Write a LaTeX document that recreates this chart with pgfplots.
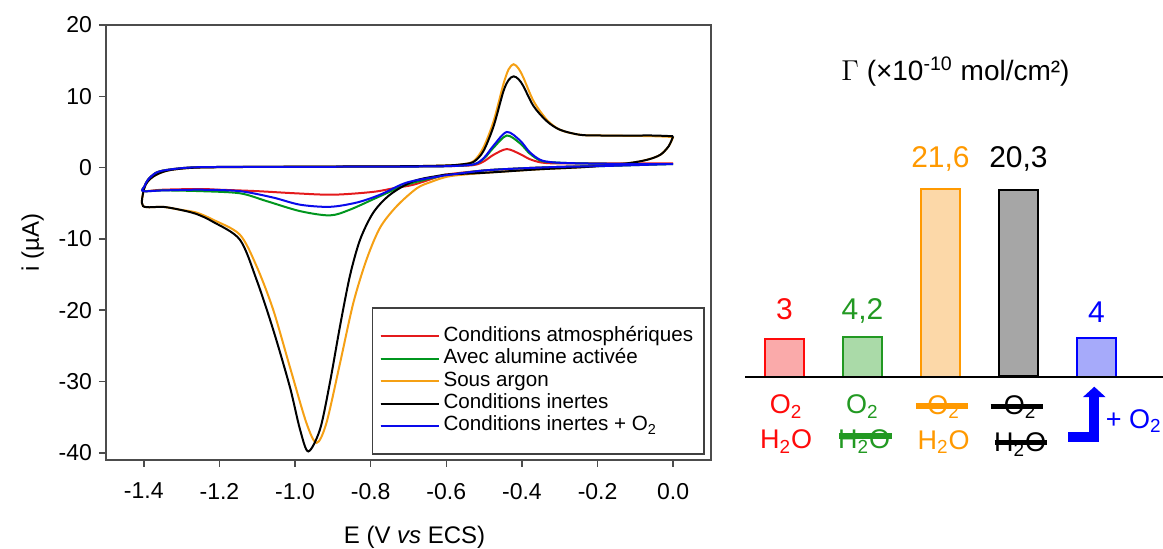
\documentclass[border=0pt]{standalone}
\usepackage{pgfplots}
\pgfplotsset{compat=1.18}
\usepackage{fontspec}
\setmainfont{Liberation Sans}
\usetikzlibrary{arrows.meta}
\definecolor{cred}{RGB}{228,26,28}
\definecolor{cgreen}{RGB}{0,150,30}
\definecolor{corange}{RGB}{245,160,20}
\definecolor{cblue}{RGB}{10,10,235}
\definecolor{tred}{RGB}{255,10,10}
\definecolor{tgreen}{RGB}{34,153,34}
\definecolor{torange}{RGB}{255,153,0}
\definecolor{tblue}{RGB}{0,0,255}
\definecolor{fred}{RGB}{250,170,170}
\definecolor{fgreen}{RGB}{170,218,168}
\definecolor{forange}{RGB}{252,216,168}
\definecolor{fgray}{RGB}{166,166,166}
\definecolor{fblue}{RGB}{166,170,250}
\begin{document}
\begin{tikzpicture}
\path[use as bounding box] (0pt,0pt) rectangle (581.5pt,274.5pt);
\begin{axis}[
  at={(53pt,44.5pt)}, anchor=south west, scale only axis,
  width=302.5pt, height=217.5pt,
  xmin=-1.5, xmax=0.1, ymin=-41, ymax=20,
  xtick={-1.4,-1.2,-1,-0.8,-0.6,-0.4,-0.2,0},
  ytick={-40,-30,-20,-10,0,10,20},
  tick pos=left, tick align=outside, major tick length=3.5pt,
  axis line style={draw=black!70, line width=0.8pt},
  every tick/.style={black!70, line width=0.8pt},
  /pgf/number format/assume math mode=true,
  tick label style={font=\fontsize{11.5}{13}\selectfont},
  xticklabel style={yshift=-4.5pt, /pgf/number format/.cd, fixed, fixed zerofill, precision=1},
  yticklabel style={/pgf/number format/.cd, fixed, precision=0},
  xlabel={E (V \textit{vs} ECS)},
  ylabel={i (µA)},
  label style={font=\fontsize{12}{14}\selectfont},
  xlabel style={at={(axis description cs:0.51,-0.177)}, anchor=center},
  ylabel style={at={(axis description cs:-0.121,0.5)}, anchor=center},
  legend cell align=left,
  legend style={at={(0.990,0.0115)}, anchor=south east, draw=black!75, line width=0.8pt,
    fill=white, font=\fontsize{10.3}{11}\selectfont, inner xsep=3.5pt, inner ysep=8.5pt, row sep=0pt,
    nodes={inner ysep=0.7pt, text height=7.4pt, text depth=2.4pt}},
  legend image code/.code={\draw[#1, line width=1pt] (0pt,0pt) -- (23pt,0pt); \path (0pt,0pt) -- (29pt,0pt);},
]
\addplot[cred, line width=1pt, smooth, tension=0.5] coordinates {
(0.0,0.6)(-0.1,0.4)(-0.2,0.25)(-0.3,0.1)(-0.4,-0.1)(-0.5,-0.4)(-0.59,-0.9)(-0.616,-1.2)(-0.687,-2.4)(-0.731,-2.8)(-0.793,-3.4)(-0.899,-3.8)(-1.0,-3.6)(-1.1,-3.3)(-1.2,-3.1)(-1.252,-3.0)(-1.35,-3.1)(-1.402,-3.3)
(-1.398,-2.6)(-1.389,-1.7)(-1.367,-0.7)(-1.332,-0.27)(-1.261,0.05)(-1.1,0.1)(-0.9,0.12)(-0.7,0.15)(-0.6,0.2)(-0.528,0.35)(-0.50,0.9)(-0.475,1.8)(-0.44,2.6)(-0.405,1.9)(-0.38,1.2)(-0.352,0.75)(-0.32,0.6)(-0.25,0.6)(-0.1,0.6)(0.0,0.6)};
\addlegendentry{Conditions atmosphériques}
\addplot[cgreen, line width=1pt, smooth, tension=0.5] coordinates {
(0.0,0.5)(-0.1,0.35)(-0.2,0.2)(-0.3,0.1)(-0.4,-0.1)(-0.5,-0.4)(-0.59,-1.0)(-0.616,-1.2)(-0.705,-2.4)(-0.775,-4.0)(-0.855,-5.9)(-0.908,-6.7)(-0.987,-6.1)(-1.075,-4.7)(-1.146,-3.6)(-1.25,-3.3)(-1.35,-3.2)(-1.402,-3.3)
(-1.398,-2.6)(-1.389,-1.7)(-1.367,-0.7)(-1.332,-0.27)(-1.261,0.05)(-1.1,0.1)(-0.9,0.12)(-0.7,0.15)(-0.6,0.2)(-0.528,0.45)(-0.50,1.3)(-0.475,2.8)(-0.44,4.5)(-0.405,3.4)(-0.38,2.0)(-0.352,1.0)(-0.32,0.75)(-0.25,0.6)(-0.1,0.5)(0.0,0.5)};
\addlegendentry{Avec alumine activée}
\addplot[corange, line width=1pt, smooth, tension=0.5] coordinates {
(0.000,4.3)(-0.012,3.0)(-0.034,1.8)(-0.069,1.1)(-0.122,0.6)(-0.228,0.1)(-0.36,-0.25)(-0.49,-0.7)(-0.59,-1.2)(-0.64,-2.0)(-0.678,-2.9)(-0.731,-5.4)(-0.775,-8.4)(-0.811,-12.9)(-0.846,-19.0)(-0.881,-27.4)(-0.917,-35.8)(-0.943,-38.6)(-0.970,-35.8)(-1.014,-27.9)(-1.058,-19.9)(-1.102,-13.8)(-1.146,-9.4)(-1.217,-7.3)(-1.261,-6.3)(-1.305,-5.9)(-1.349,-5.5)(-1.402,-5.4)
(-1.400,-3.1)(-1.389,-1.9)(-1.367,-1.0)(-1.332,-0.36)(-1.261,0.0)(-1.1,0.1)(-0.9,0.15)(-0.7,0.2)(-0.6,0.3)(-0.56,0.45)(-0.528,0.9)(-0.502,2.8)(-0.475,6.5)(-0.449,11.7)(-0.435,13.8)(-0.422,14.5)(-0.409,13.9)(-0.396,12.6)(-0.369,9.3)(-0.334,6.7)(-0.299,5.3)(-0.246,4.6)(-0.185,4.5)(-0.1,4.45)(-0.05,4.4)(0.0,4.3)};
\addlegendentry{Sous argon}
\addplot[black, line width=1pt, smooth, tension=0.5] coordinates {
(0.000,4.4)(-0.012,3.0)(-0.034,1.8)(-0.069,1.1)(-0.122,0.6)(-0.228,0.1)(-0.36,-0.25)(-0.49,-0.7)(-0.59,-0.95)(-0.616,-1.1)(-0.687,-1.9)(-0.749,-3.8)(-0.793,-6.3)(-0.828,-10.1)(-0.855,-15.2)(-0.881,-22.2)(-0.908,-30.2)(-0.934,-36.7)(-0.965,-39.8)(-0.987,-36.7)(-1.014,-30.7)(-1.058,-22.7)(-1.102,-15.7)(-1.146,-10.1)(-1.217,-7.6)(-1.261,-6.5)(-1.305,-5.9)(-1.349,-5.5)(-1.402,-5.4)
(-1.400,-3.1)(-1.389,-1.9)(-1.367,-1.0)(-1.332,-0.36)(-1.261,0.0)(-1.1,0.1)(-0.9,0.15)(-0.7,0.2)(-0.6,0.3)(-0.56,0.45)(-0.528,0.8)(-0.502,2.3)(-0.475,5.8)(-0.449,10.7)(-0.435,12.3)(-0.422,12.8)(-0.409,12.4)(-0.396,11.4)(-0.369,8.6)(-0.334,6.5)(-0.299,5.3)(-0.246,4.6)(-0.185,4.5)(-0.1,4.5)(-0.05,4.5)(0.0,4.4)};
\addlegendentry{Conditions inertes}
\addplot[cblue, line width=1pt, smooth, tension=0.5] coordinates {
(0.0,0.5)(-0.1,0.35)(-0.2,0.2)(-0.3,0.1)(-0.4,-0.1)(-0.5,-0.4)(-0.59,-1.0)(-0.616,-1.2)(-0.705,-2.1)(-0.775,-3.8)(-0.837,-4.9)(-0.908,-5.5)(-0.987,-5.2)(-1.058,-4.2)(-1.146,-3.3)(-1.25,-3.1)(-1.35,-3.2)(-1.402,-3.3)
(-1.398,-2.6)(-1.389,-1.7)(-1.367,-0.7)(-1.332,-0.27)(-1.261,0.05)(-1.1,0.1)(-0.9,0.12)(-0.7,0.15)(-0.6,0.2)(-0.528,0.45)(-0.50,1.4)(-0.475,3.1)(-0.44,5.0)(-0.405,3.8)(-0.38,2.2)(-0.352,1.1)(-0.32,0.75)(-0.25,0.6)(-0.1,0.5)(0.0,0.5)};
\addlegendentry{Conditions inertes + O\textsubscript{2}}
\end{axis}
\begin{axis}[
  at={(372.5pt,44.5pt)}, anchor=south west, scale only axis,
  width=209pt, height=217.5pt,
  xmin=-0.506, xmax=4.853, ymin=-83.3, ymax=351.7,
  hide axis, clip=false,
]
\addplot[ybar, bar width=0.5, bar shift=0pt, draw=tred, fill=fred, line width=1pt] coordinates {(0,37.4)};
\addplot[ybar, bar width=0.5, bar shift=0pt, draw=tgreen, fill=fgreen, line width=1pt] coordinates {(1,40.0)};
\addplot[ybar, bar width=0.5, bar shift=0pt, draw=torange, fill=forange, line width=1pt] coordinates {(2,187.7)};
\addplot[ybar, bar width=0.5, bar shift=0pt, draw=black, fill=fgray, line width=1.3pt] coordinates {(3,186.7)};
\addplot[ybar, bar width=0.5, bar shift=0pt, draw=tblue, fill=fblue, line width=1pt] coordinates {(4,38.7)};
\draw[line width=1pt] (axis cs:-0.506,0) -- (axis cs:4.853,0);
% title
\node[anchor=base, font=\fontsize{14}{16}\selectfont] at (axis cs:2.192,296) {$\Gamma$ (×10\textsuperscript{-10} mol/cm²)};
% values
\begin{scope}[every node/.style={anchor=base, font=\fontsize{15}{17}\selectfont}]
\node[tred] at (axis cs:0,57.4) {3};
\node[tgreen] at (axis cs:1,57.4) {4,2};
\node[torange] at (axis cs:2,209) {21,6};
\node[black] at (axis cs:3,209) {20,3};
\node[tblue] at (axis cs:4,54) {4};
\end{scope}
% formulas
\begin{scope}[every node/.style={anchor=base, font=\fontsize{13.5}{15}\selectfont}]
\node[tred] at (axis cs:0.02,-37) {O\textsubscript{2}};
\node[tred] at (axis cs:0.02,-72) {H\textsubscript{2}O};
\node[tgreen] at (axis cs:1.0,-37) {O\textsubscript{2}};
\node[tgreen] at (axis cs:1.02,-72) {H\textsubscript{2}O};
\node[torange] at (axis cs:2.04,-37.5) {O\textsubscript{2}};
\node[torange] at (axis cs:2.04,-72.5) {H\textsubscript{2}O};
\node[black] at (axis cs:3.02,-37.5) {O\textsubscript{2}};
\node[black] at (axis cs:3.02,-75) {H\textsubscript{2}O};
\node[tblue] at (axis cs:4.478,-51.6) {+ O\textsubscript{2}};
\end{scope}
% strikes
\draw[tgreen, line width=3.2pt] (axis cs:0.699,-59.3) -- (axis cs:1.374,-59.3);
\draw[torange, line width=2.8pt] (axis cs:1.686,-29.5) -- (axis cs:2.353,-29.5);
\draw[black, line width=2.4pt] (axis cs:2.644,-29.6) -- (axis cs:3.318,-29.6);
\draw[black, line width=2.4pt] (axis cs:2.699,-65.5) -- (axis cs:3.362,-65.5);
% arrow
\draw[tblue, line width=5pt, line join=miter, -{Triangle[width=11pt,length=5.2pt]}]
  (axis cs:3.635,-60) -- (axis cs:3.972,-60) -- (axis cs:3.972,-10);
\end{axis}
\end{tikzpicture}
\end{document}
